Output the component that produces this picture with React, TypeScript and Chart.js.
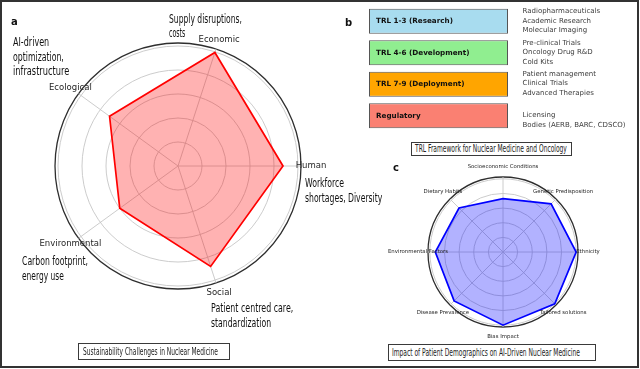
import React, { useEffect, useLayoutEffect, useRef } from 'react';
import { Chart, registerables } from 'chart.js';

Chart.register(...registerables);

const W = 640;
const H = 369;

// ---- Panel a: sustainability challenges ----
const sustainCategories = ['Economic', 'Human', 'Social', 'Environmental', 'Ecological'];
const sustainValues = [0.995, 0.875, 0.88, 0.6, 0.705];

// ---- Panel c: patient demographics ----
const demoCategories = [
  'Socioeconomic Conditions',
  'Genetic Predisposition',
  'Ethnicity',
  'Tailored solutions',
  'Bias Impact',
  'Disease Prevalence',
  'Environmental Factors',
  'Dietary Habits',
];
const demoValues = [0.73, 0.93, 1.0, 1.0, 1.0, 0.945, 0.925, 0.85];

// radial ring values (last one = outer spine)
const ringTicks = [0, 0.2, 0.4, 0.6, 0.8, 1.0, 1.025];

// ---- Panel b: TRL framework ----
const trlStages = ['TRL 1-3 (Research)', 'TRL 4-6 (Development)', 'TRL 7-9 (Deployment)', 'Regulatory'];
const trlSpans = [[0, 1], [0, 1], [0, 1], [0, 1]];
const trlColors = ['#a8dcef', '#90ee90', '#ffa500', '#fa8072'];
const trlDetails = [
  ['Radiopharmaceuticals', 'Academic Research', 'Molecular Imaging'],
  ['Pre-clinical Trials', 'Oncology Drug R&D', 'Cold Kits'],
  ['Patient management', 'Clinical Trials', 'Advanced Therapies'],
  ['Licensing', 'Bodies (AERB, BARC, CDSCO)'],
];
const trlDetailShift = [-0.5, -0.3, -0.9, 4.3];

// ---- texts ----
const annotA = [
  { t: 'Supply disruptions,', x: 169, y: 19, w: 73 },
  { t: 'costs', x: 169, y: 33, w: 16 },
  { t: 'AI-driven', x: 13, y: 42, w: 36 },
  { t: 'optimization,', x: 13, y: 57, w: 51 },
  { t: 'infrastructure', x: 13, y: 71, w: 56 },
  { t: 'Workforce', x: 305, y: 183, w: 39 },
  { t: 'shortages, Diversity', x: 305, y: 198, w: 77 },
  { t: 'Carbon footprint,', x: 22, y: 261, w: 66 },
  { t: 'energy use', x: 22, y: 276, w: 42 },
  { t: 'Patient centred care,', x: 211, y: 308, w: 82 },
  { t: 'standardization', x: 211, y: 323, w: 60 },
];

const captions = [
  { t: 'Sustainability Challenges in Nuclear Medicine', bx: 78, by: 343, bw: 152, bh: 17, tx: 83, ty: 351.7, tw: 135 },
  { t: 'Impact of Patient Demographics on AI-Driven Nuclear Medicine', bx: 388, by: 344, bw: 208, bh: 17, tx: 392, ty: 352.5, tw: 188 },
  { t: 'TRL Framework for Nuclear Medicine and Oncology', bx: 411, by: 142, bw: 161, bh: 14, tx: 415, ty: 149, tw: 152 },
];

function FitText(props: { t: string; x: number; y: number; w: number; size: number; color?: string }) {
  const ref = useRef<HTMLSpanElement>(null);
  useLayoutEffect(() => {
    const el = ref.current;
    if (!el) return;
    el.style.transform = 'translateY(-50%)';
    const nat = el.offsetWidth || 1;
    el.style.transform = `translateY(-50%) scaleX(${props.w / nat})`;
  }, [props.t, props.w]);
  return (
    <span
      ref={ref}
      style={{
        position: 'absolute',
        left: props.x,
        top: props.y,
        whiteSpace: 'nowrap',
        fontFamily: '"DejaVu Sans", sans-serif',
        fontSize: props.size,
        lineHeight: 1,
        color: props.color || '#111',
        transformOrigin: '0 50%',
      }}
    >
      {props.t}
    </span>
  );
}

type Pad = { left: number; top: number; right: number; bottom: number };

function RadarPanel(props: {
  labels: string[];
  values: number[];
  line: string;
  fill: string;
  pad: Pad;
  startAngle: number;
  labelFont: string;
  labelOffset: number;
}) {
  const ref = useRef<HTMLCanvasElement>(null);
  useEffect(() => {
    const { labels, values, line, fill, pad, startAngle, labelFont, labelOffset } = props;
    const labelPlugin = {
      id: 'axisLabels',
      afterDraw(chart: any) {
        const s = chart.scales.r;
        const ctx = chart.ctx;
        ctx.save();
        ctx.font = labelFont;
        ctx.fillStyle = '#262626';
        ctx.textAlign = 'center';
        ctx.textBaseline = 'middle';
        labels.forEach((l, i) => {
          const p = s.getPointPosition(i, s.drawingArea + labelOffset);
          ctx.fillText(l, p.x, p.y);
        });
        ctx.restore();
      },
    };
    const chart = new Chart(ref.current as HTMLCanvasElement, {
      type: 'radar',
      data: {
        labels,
        datasets: [
          {
            data: values,
            borderColor: line,
            backgroundColor: fill,
            borderWidth: 1.7,
            pointRadius: 0,
            pointHoverRadius: 0,
            fill: true,
          },
        ],
      },
      options: {
        responsive: false,
        animation: false,
        devicePixelRatio: 1,
        layout: { padding: pad },
        plugins: { legend: { display: false }, tooltip: { enabled: false } },
        elements: { line: { tension: 0 } },
        scales: {
          r: {
            min: 0,
            max: 1.025,
            startAngle,
            afterBuildTicks: (sc: any) => {
              sc.ticks = ringTicks.map((v) => ({ value: v }));
            },
            ticks: { display: false },
            pointLabels: { display: false },
            grid: {
              circular: true,
              color: (c: any) => (c.tick && c.tick.value > 1.01 ? '#2e2e2e' : '#c6c6c6'),
              lineWidth: (c: any) => (c.tick && c.tick.value > 1.01 ? 1.3 : 0.9),
            },
            angleLines: { color: '#c6c6c6', lineWidth: 0.9 },
          },
        },
      } as any,
      plugins: [labelPlugin],
    });
    return () => chart.destroy();
  }, []);
  return <canvas ref={ref} width={W} height={H} style={{ position: 'absolute', left: 0, top: 0 }} />;
}

function TrlPanel() {
  const ref = useRef<HTMLCanvasElement>(null);
  useEffect(() => {
    const textPlugin = {
      id: 'trlText',
      afterDatasetsDraw(chart: any) {
        const ctx = chart.ctx;
        const meta = chart.getDatasetMeta(0);
        const right = chart.chartArea.right;
        ctx.save();
        ctx.textBaseline = 'middle';
        ctx.textAlign = 'left';
        meta.data.forEach((bar: any, i: number) => {
          const p = bar.getProps(['x', 'y', 'base'], true);
          const left = Math.min(p.x, p.base);
          ctx.font = 'bold 7.2px "DejaVu Sans"';
          ctx.fillStyle = '#111';
          ctx.fillText(trlStages[i], left + 7, p.y);
          ctx.font = '7px "DejaVu Sans"';
          ctx.fillStyle = '#3c3c3c';
          const lines = trlDetails[i];
          const n = lines.length;
          lines.forEach((t, j) => {
            ctx.fillText(t, right + 14.5, p.y + (j - (n - 1) / 2) * 9.5 + trlDetailShift[i]);
          });
        });
        ctx.restore();
      },
    };
    const chart = new Chart(ref.current as HTMLCanvasElement, {
      type: 'bar',
      data: {
        labels: trlStages,
        datasets: [
          {
            data: trlSpans as any,
            backgroundColor: trlColors,
            borderColor: '#555555',
            borderWidth: 1,
            borderSkipped: false,
            barPercentage: 0.8,
            categoryPercentage: 1,
          },
        ],
      },
      options: {
        indexAxis: 'y',
        responsive: false,
        animation: false,
        devicePixelRatio: 1,
        layout: { padding: { left: 369, right: 132, top: 5.5, bottom: 237.5 } },
        plugins: { legend: { display: false }, tooltip: { enabled: false } },
        scales: {
          x: { display: false, min: 0, max: 1 },
          y: { display: false },
        },
      } as any,
      plugins: [textPlugin],
    });
    return () => chart.destroy();
  }, []);
  return <canvas ref={ref} width={W} height={H} style={{ position: 'absolute', left: 0, top: 0 }} />;
}

const panelLetter: React.CSSProperties = {
  position: 'absolute',
  fontFamily: '"DejaVu Sans", sans-serif',
  fontWeight: 'bold',
  fontSize: 10,
  lineHeight: 1,
  color: '#111',
  transform: 'translateY(-50%)',
};

export default function App() {
  return (
    <div
      style={{
        position: 'absolute',
        left: 0,
        top: 0,
        width: W,
        height: H,
        background: '#fff',
        overflow: 'hidden',
      }}
    >
      <RadarPanel
        labels={sustainCategories}
        values={sustainValues}
        line="#ff0000"
        fill="rgba(255,0,0,0.3)"
        pad={{ left: 55, top: 43, right: W - 55 - 246, bottom: H - 43 - 246 }}
        startAngle={18}
        labelFont='8.5px "DejaVu Sans"'
        labelOffset={10}
      />
      <RadarPanel
        labels={demoCategories}
        values={demoValues}
        line="#0000ff"
        fill="rgba(0,0,255,0.3)"
        pad={{ left: 428, top: 177, right: W - 428 - 150, bottom: H - 177 - 150 }}
        startAngle={0}
        labelFont='5.4px "DejaVu Sans"'
        labelOffset={10}
      />
      <TrlPanel />

      {annotA.map((a, i) => (
        <FitText key={'a' + i} t={a.t} x={a.x} y={a.y} w={a.w} size={12.5} />
      ))}

      {captions.map((c, i) => (
        <React.Fragment key={'c' + i}>
          <div
            style={{
              position: 'absolute',
              left: c.bx,
              top: c.by,
              width: c.bw,
              height: c.bh,
              boxSizing: 'border-box',
              border: '1px solid #3a3a3a',
              background: '#fff',
            }}
          />
          <FitText t={c.t} x={c.tx} y={c.ty} w={c.tw} size={10} color="#222" />
        </React.Fragment>
      ))}

      <div style={{ ...panelLetter, left: 11, top: 22 }}>a</div>
      <div style={{ ...panelLetter, left: 345, top: 23 }}>b</div>
      <div style={{ ...panelLetter, left: 393, top: 168 }}>c</div>

      <div
        style={{
          position: 'absolute',
          left: 0,
          top: 0,
          width: 639,
          height: 368,
          boxSizing: 'border-box',
          border: '2px solid #333',
        }}
      />
    </div>
  );
}
